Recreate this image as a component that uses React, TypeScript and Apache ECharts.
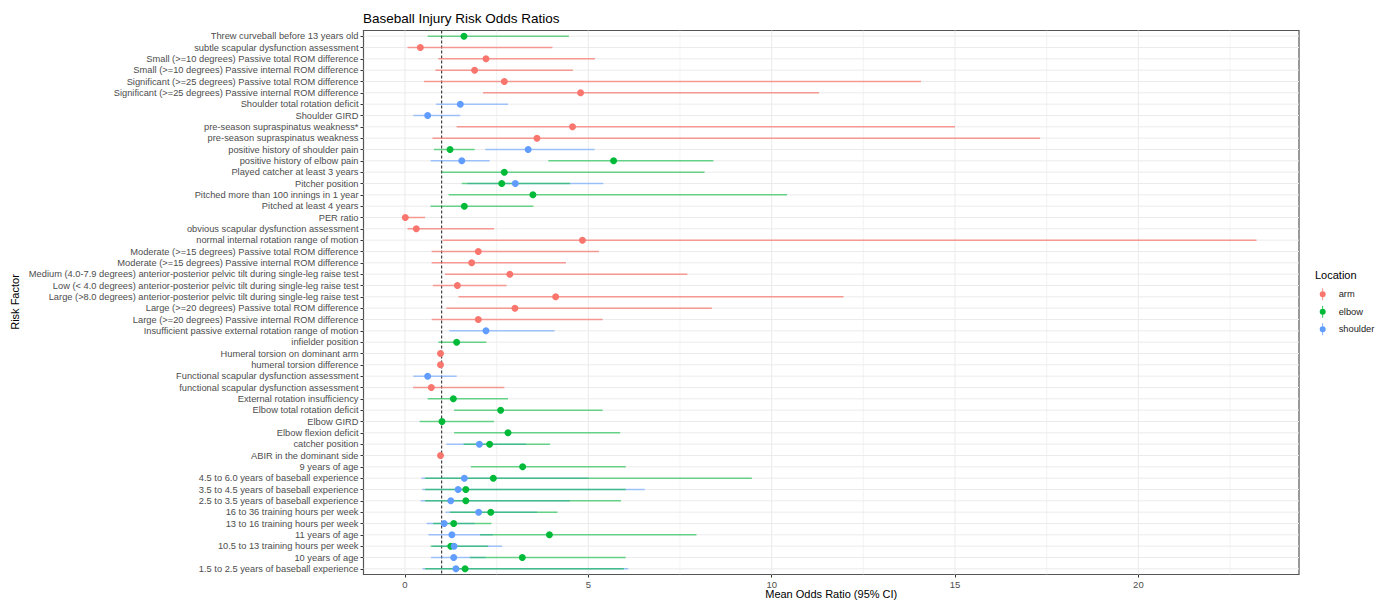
import React, { useEffect, useRef } from "react";
import * as echarts from "echarts";

// Risk factors, top to bottom as shown on the chart
const CATEGORIES = [
  "Threw curveball before 13 years old",
  "subtle scapular dysfunction assessment",
  "Small (>=10 degrees) Passive total ROM difference",
  "Small (>=10 degrees) Passive internal ROM difference",
  "Significant (>=25 degrees) Passive total ROM difference",
  "Significant (>=25 degrees) Passive internal ROM difference",
  "Shoulder total rotation deficit",
  "Shoulder GIRD",
  "pre-season supraspinatus weakness*",
  "pre-season supraspinatus weakness",
  "positive history of shoulder pain",
  "positive history of elbow pain",
  "Played catcher at least 3 years",
  "Pitcher position",
  "Pitched more than 100 innings in 1 year",
  "Pitched at least 4 years",
  "PER ratio",
  "obvious scapular dysfunction assessment",
  "normal internal rotation range of motion",
  "Moderate (>=15 degrees) Passive total ROM difference",
  "Moderate (>=15 degrees) Passive internal ROM difference",
  "Medium (4.0-7.9 degrees) anterior-posterior pelvic tilt during single-leg raise test",
  "Low (< 4.0 degrees) anterior-posterior pelvic tilt during single-leg raise test",
  "Large (>8.0 degrees) anterior-posterior pelvic tilt during single-leg raise test",
  "Large (>=20 degrees) Passive total ROM difference",
  "Large (>=20 degrees) Passive internal ROM difference",
  "Insufficient passive external rotation range of motion",
  "infielder position",
  "Humeral torsion on dominant arm",
  "humeral torsion difference",
  "Functional scapular dysfunction assessment",
  "functional scapular dysfunction assessment",
  "External rotation insufficiency",
  "Elbow total rotation deficit",
  "Elbow GIRD",
  "Elbow flexion deficit",
  "catcher position",
  "ABIR in the dominant side",
  "9 years of age",
  "4.5 to 6.0 years of baseball experience",
  "3.5 to 4.5 years of baseball experience",
  "2.5 to 3.5 years of baseball experience",
  "16 to 36 training hours per week",
  "13 to 16 training hours per week",
  "11 years of age",
  "10.5 to 13 training hours per week",
  "10 years of age",
  "1.5 to 2.5 years of baseball experience",
];

// [factor, mean odds ratio, lower 95% CI, upper 95% CI]
const ARM: [string, number, number, number][] = [
  ["subtle scapular dysfunction assessment", 0.42, 0.07, 4.02],
  ["Small (>=10 degrees) Passive total ROM difference", 2.21, 0.91, 5.18],
  ["Small (>=10 degrees) Passive internal ROM difference", 1.9, 0.83, 4.58],
  ["Significant (>=25 degrees) Passive total ROM difference", 2.71, 0.52, 14.07],
  ["Significant (>=25 degrees) Passive internal ROM difference", 4.79, 2.13, 11.29],
  ["pre-season supraspinatus weakness*", 4.57, 1.41, 15.0],
  ["pre-season supraspinatus weakness", 3.6, 0.75, 17.32],
  ["PER ratio", 0.01, 0.0, 0.55],
  ["obvious scapular dysfunction assessment", 0.31, 0.07, 2.43],
  ["normal internal rotation range of motion", 4.84, 1.03, 23.22],
  ["Moderate (>=15 degrees) Passive total ROM difference", 2.0, 0.73, 5.29],
  ["Moderate (>=15 degrees) Passive internal ROM difference", 1.82, 0.73, 4.39],
  ["Medium (4.0-7.9 degrees) anterior-posterior pelvic tilt during single-leg raise test", 2.86, 1.09, 7.7],
  ["Low (< 4.0 degrees) anterior-posterior pelvic tilt during single-leg raise test", 1.43, 0.76, 2.77],
  ["Large (>8.0 degrees) anterior-posterior pelvic tilt during single-leg raise test", 4.11, 1.46, 11.96],
  ["Large (>=20 degrees) Passive total ROM difference", 3.0, 1.13, 8.37],
  ["Large (>=20 degrees) Passive internal ROM difference", 2.0, 0.73, 5.39],
  ["Humeral torsion on dominant arm", 0.97, 0.94, 1.0],
  ["humeral torsion difference", 0.97, 0.94, 1.0],
  ["functional scapular dysfunction assessment", 0.72, 0.22, 2.71],
  ["ABIR in the dominant side", 0.97, 0.94, 1.0],
];

const ELBOW: [string, number, number, number][] = [
  ["Threw curveball before 13 years old", 1.61, 0.62, 4.47],
  ["positive history of shoulder pain", 1.23, 0.79, 1.9],
  ["positive history of elbow pain", 5.69, 3.91, 8.41],
  ["Played catcher at least 3 years", 2.71, 1.0, 8.17],
  ["Pitcher position", 2.64, 1.55, 4.5],
  ["Pitched more than 100 innings in 1 year", 3.49, 1.19, 10.42],
  ["Pitched at least 4 years", 1.62, 0.7, 3.5],
  ["infielder position", 1.41, 0.91, 2.22],
  ["External rotation insufficiency", 1.32, 0.62, 2.81],
  ["Elbow total rotation deficit", 2.61, 1.34, 5.39],
  ["Elbow GIRD", 1.01, 0.4, 2.43],
  ["Elbow flexion deficit", 2.81, 1.34, 5.87],
  ["catcher position", 2.31, 1.6, 3.96],
  ["9 years of age", 3.21, 1.8, 6.02],
  ["4.5 to 6.0 years of baseball experience", 2.41, 0.55, 9.46],
  ["3.5 to 4.5 years of baseball experience", 1.66, 0.55, 6.02],
  ["2.5 to 3.5 years of baseball experience", 1.66, 0.55, 5.89],
  ["16 to 36 training hours per week", 2.34, 1.23, 4.16],
  ["13 to 16 training hours per week", 1.33, 0.77, 2.36],
  ["11 years of age", 3.94, 2.05, 7.95],
  ["10.5 to 13 training hours per week", 1.25, 0.7, 2.27],
  ["10 years of age", 3.2, 1.77, 6.02],
  ["1.5 to 2.5 years of baseball experience", 1.64, 0.55, 5.97],
];

const SHOULDER: [string, number, number, number][] = [
  ["Shoulder total rotation deficit", 1.51, 0.85, 2.81],
  ["Shoulder GIRD", 0.62, 0.23, 1.51],
  ["positive history of shoulder pain", 3.36, 2.19, 5.17],
  ["positive history of elbow pain", 1.55, 0.7, 2.31],
  ["Pitcher position", 3.01, 1.7, 5.41],
  ["Insufficient passive external rotation range of motion", 2.21, 1.21, 4.08],
  ["Functional scapular dysfunction assessment", 0.62, 0.23, 1.41],
  ["catcher position", 2.03, 1.13, 3.3],
  ["4.5 to 6.0 years of baseball experience", 1.62, 0.45, 5.0],
  ["3.5 to 4.5 years of baseball experience", 1.45, 0.47, 6.54],
  ["2.5 to 3.5 years of baseball experience", 1.25, 0.43, 4.5],
  ["16 to 36 training hours per week", 2.01, 1.11, 3.6],
  ["13 to 16 training hours per week", 1.07, 0.59, 1.9],
  ["11 years of age", 1.28, 0.64, 2.4],
  ["10.5 to 13 training hours per week", 1.34, 0.75, 2.65],
  ["10 years of age", 1.33, 0.71, 2.2],
  ["1.5 to 2.5 years of baseball experience", 1.39, 0.48, 6.09],
];

const X_MAJOR = [0, 5, 10, 15, 20];
const X_MINOR = [2.5, 7.5, 12.5, 17.5, 22.5];
const REF_LINE = 1;
const X_MIN = -1.13;
const X_MAX = 24.38;

const FONT = "'Liberation Sans', Arial, Helvetica, sans-serif";

const LOCATIONS = [
  { name: "arm", rows: ARM, color: "#F8766D", line: "rgba(248,118,109,0.72)" },
  { name: "elbow", rows: ELBOW, color: "#00BA38", line: "rgba(0,186,56,0.58)" },
  { name: "shoulder", rows: SHOULDER, color: "#619CFF", line: "rgba(97,156,255,0.58)" },
];

const LEGEND_ICON =
  "path://M2.6,0H3.4V12H2.6Z M6,6A3,3 0 1 1 0,6A3,3 0 1 1 6,6Z";

export default function App() {
  const ref = useRef<HTMLDivElement>(null);

  useEffect(() => {
    if (!ref.current) return;
    const chart = echarts.init(ref.current, null, { renderer: "svg" });

    const vGrid = (values: number[], width: number, z: number) => ({
      type: "custom",
      silent: true,
      z,
      encode: { x: 0, y: 1 },
      data: values.map((v) => [v, 0]),
      renderItem: (params: any, api: any) => {
        const cs = params.coordSys;
        const p = api.coord([api.value(0), 0]);
        return {
          type: "line",
          shape: { x1: p[0], y1: cs.y, x2: p[0], y2: cs.y + cs.height },
          style: { stroke: "#ebebeb", lineWidth: width },
        };
      },
    });

    const hGrid = {
      type: "custom",
      silent: true,
      z: 1,
      encode: { x: 0, y: 1 },
      data: CATEGORIES.map((c) => [0, c]),
      renderItem: (params: any, api: any) => {
        const cs = params.coordSys;
        const p = api.coord([0, api.value(1)]);
        return {
          type: "line",
          shape: { x1: cs.x, y1: p[1], x2: cs.x + cs.width, y2: p[1] },
          style: { stroke: "#ebebeb", lineWidth: 1 },
        };
      },
    };

    const refLine = {
      type: "custom",
      silent: true,
      z: 2,
      encode: { x: 0, y: 1 },
      data: [[REF_LINE, 0]],
      renderItem: (params: any, api: any) => {
        const cs = params.coordSys;
        const p = api.coord([api.value(0), 0]);
        return {
          type: "line",
          shape: { x1: p[0], y1: cs.y, x2: p[0], y2: cs.y + cs.height },
          style: { stroke: "#444444", lineWidth: 1.2, lineDash: [3, 2] },
        };
      },
    };

    const barOrder = [LOCATIONS[2], LOCATIONS[1], LOCATIONS[0]];
    const errorBars = barOrder.map((loc, i) => ({
      type: "custom",
      name: loc.name + "-ci",
      silent: true,
      z: 3 + i,
      dimensions: ["lo", "hi", "factor"],
      encode: { x: [0, 1], y: 2 },
      data: loc.rows.map((r) => [r[2], r[3], r[0]]),
      renderItem: (params: any, api: any) => {
        const y = api.value(2);
        const a = api.coord([api.value(0), y]);
        const b = api.coord([api.value(1), y]);
        return {
          type: "line",
          shape: { x1: a[0], y1: a[1], x2: b[0], y2: b[1] },
          style: { stroke: loc.line, lineWidth: 1.5 },
        };
      },
    }));

    const points = LOCATIONS.map((loc) => ({
      type: "scatter",
      name: loc.name,
      z: 10,
      symbol: "circle",
      symbolSize: 7,
      itemStyle: { color: loc.color, opacity: 1 },
      data: loc.rows.map((r) => [r[1], r[0]]),
    }));

    chart.setOption({
      animation: false,
      backgroundColor: "#ffffff",
      textStyle: { fontFamily: FONT },
      title: {
        text: "Baseball Injury Risk Odds Ratios",
        left: 363,
        top: 11,
        padding: 0,
        textStyle: { fontFamily: FONT, fontSize: 13.5, fontWeight: "normal", color: "#000000" },
      },
      grid: {
        left: 363.5,
        right: 77,
        top: 30.5,
        bottom: 27.5,
        outerBoundsMode: "none",
        containLabel: false,
        show: true,
        backgroundColor: "#ffffff",
        borderColor: "#555555",
        borderWidth: 1.2,
      },
      legend: {
        data: LOCATIONS.map((l) => l.name),
        orient: "vertical",
        left: 1319.7,
        top: 288.3,
        padding: 0,
        itemWidth: 6,
        itemHeight: 12,
        itemGap: 5.5,
        icon: LEGEND_ICON,
        selectedMode: false,
        textStyle: { fontFamily: FONT, fontSize: 9.3, color: "#222222", padding: [0, 0, 0, 8] },
      },
      xAxis: {
        type: "value",
        min: X_MIN,
        max: X_MAX,
        name: "Mean Odds Ratio (95% CI)",
        nameLocation: "middle",
        nameGap: 14,
        nameMoveOverlap: false,
        nameTextStyle: { fontFamily: FONT, fontSize: 11, color: "#000000" },
        axisLine: { show: false, onZero: false },
        splitLine: { show: false },
        axisTick: { show: true, length: 3, customValues: X_MAJOR, lineStyle: { color: "#333333" } },
        axisLabel: {
          customValues: X_MAJOR,
          fontFamily: FONT,
          fontSize: 9.5,
          color: "#4d4d4d",
          margin: 5,
        },
      },
      yAxis: {
        type: "category",
        data: CATEGORIES,
        inverse: true,
        boundaryGap: true,
        axisLine: { show: false, onZero: false },
        splitLine: { show: false },
        axisTick: { show: true, length: 3, alignWithLabel: true, interval: 0, lineStyle: { color: "#333333" } },
        axisLabel: {
          interval: 0,
          fontFamily: FONT,
          fontSize: 9.3,
          color: "#4d4d4d",
          margin: 5,
        },
      },
      graphic: [
        {
          type: "text",
          x: 15,
          y: 302,
          rotation: Math.PI / 2,
          style: {
            text: "Risk Factor",
            fontFamily: FONT,
            fontSize: 11,
            fill: "#000000",
            align: "center",
            verticalAlign: "middle",
          },
        },
        {
          type: "text",
          x: 1315,
          y: 275,
          style: {
            text: "Location",
            fontFamily: FONT,
            fontSize: 11,
            fill: "#000000",
            align: "left",
            verticalAlign: "middle",
          },
        },
      ],
      series: [
        vGrid(X_MINOR, 0.6, 1),
        vGrid(X_MAJOR, 1, 1),
        hGrid,
        refLine,
        ...errorBars,
        ...points,
      ],
    });

    return () => chart.dispose();
  }, []);

  return (
    <div
      ref={ref}
      style={{ position: "fixed", left: 0, top: 0, width: 1376, height: 602 }}
    />
  );
}
